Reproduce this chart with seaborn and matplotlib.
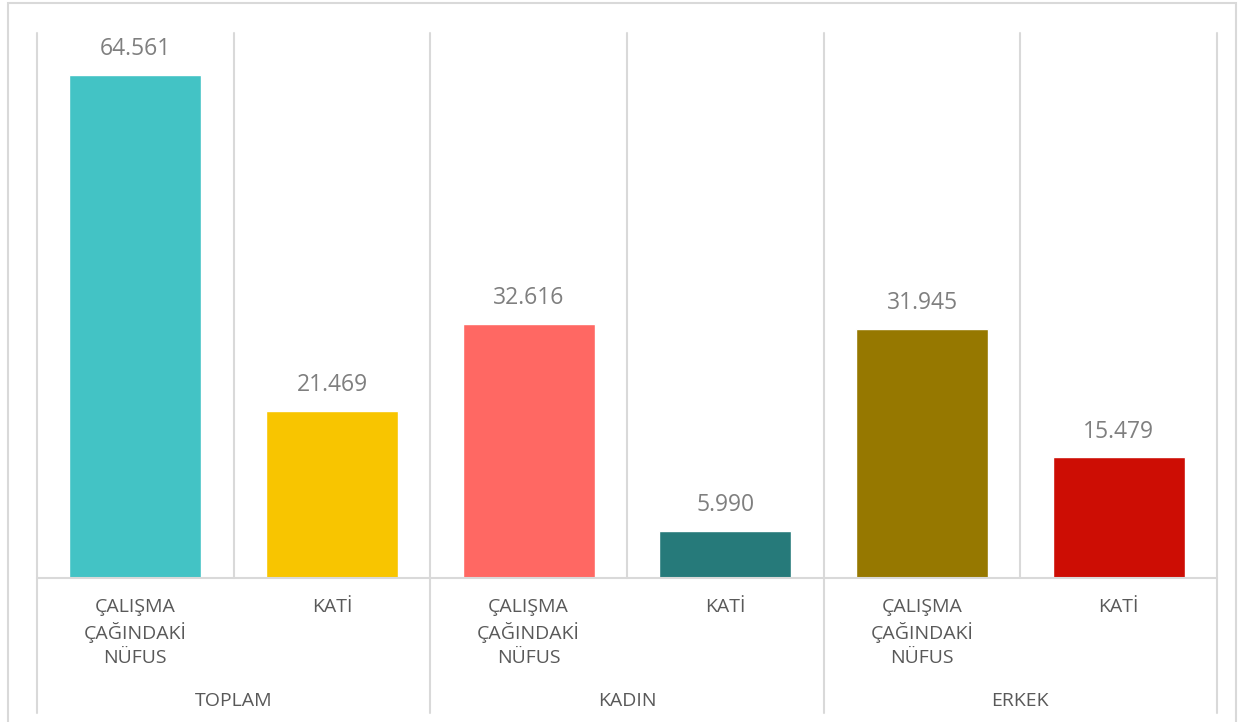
import pandas as pd
import matplotlib.pyplot as plt
import seaborn as sns
from matplotlib.patches import Rectangle

groups = ["TOPLAM", "TOPLAM", "KADIN", "KADIN", "ERKEK", "ERKEK"]
categories = ["ÇALIŞMA\nÇAĞINDAKİ\nNÜFUS", "KATİ"] * 3
values = [64.561, 21.469, 32.616, 5.990, 31.945, 15.479]
colors = ["#43C3C5", "#F8C500", "#FF6863", "#267A7A", "#967800", "#CD0D04"]
group_names = ["TOPLAM", "KADIN", "ERKEK"]

df = pd.DataFrame({"group": groups, "category": categories, "value": values})
df["key"] = [f"{g}_{i}" for i, g in enumerate(df["group"])]

sns.set_style("white")
plt.rcParams["font.family"] = ["Open Sans", "DejaVu Sans"]

fig = plt.figure(figsize=(12.47, 7.22), dpi=100)
ax = fig.add_axes([37 / 1247, 1 - 578 / 722, (1217 - 37) / 1247, (578 - 33) / 722])

sns.barplot(data=df, x="key", y="value", hue="key", palette=colors,
            width=0.67, legend=False, ax=ax, saturation=1)

ax.set_ylim(0, 70)
ax.set_xlim(-0.5, 5.5)
ax.set_xticks([])
ax.set_yticks([])
ax.set_xlabel("")
ax.set_ylabel("")
for s in ax.spines.values():
    s.set_visible(False)

grid_c = "#D9D9D9"
trans = ax.get_xaxis_transform()
# vertical lines between categories
for i in range(7):
    x = i - 0.5
    bottom = -0.248 if i % 2 == 0 else 0
    ax.plot([x, x], [bottom, 1], color=grid_c, lw=1.5, transform=trans, clip_on=False)
ax.plot([-0.5, 5.5], [0, 0], color=grid_c, lw=1.5, transform=trans, clip_on=False)

# value labels
for c in ax.containers:
    ax.bar_label(c, labels=[f"{v:.3f}" for v in c.datavalues], padding=10,
                 fontsize=16.5, color="#7F7F7F")

# category labels
for i, cat in enumerate(df["category"]):
    ax.text(i, -0.036, cat, transform=trans, ha="center", va="top",
            fontsize=14, color="#595959", linespacing=1.4)

for j, g in enumerate(group_names):
    ax.text(2 * j + 0.5, -0.225, g, transform=trans, ha="center", va="center",
            fontsize=14, color="#595959")

# outer chart border
fig.patches.append(Rectangle((8 / 1247, -0.01), (1236 - 8) / 1247, 1 - 3 / 722 + 0.01,
                             transform=fig.transFigure, fill=False,
                             edgecolor=grid_c, lw=1.5))

fig.savefig("out.png", dpi=100)
